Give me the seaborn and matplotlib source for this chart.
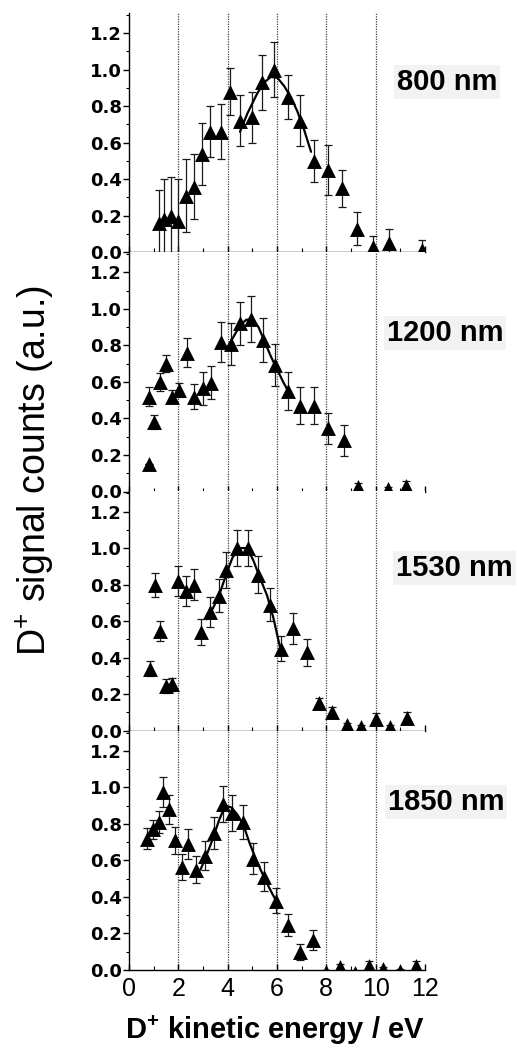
import matplotlib
matplotlib.use("Agg")
import matplotlib.pyplot as plt
import seaborn as sns
import numpy as np
from matplotlib.ticker import MultipleLocator

# ---------------- data ----------------
labels = ["800 nm", "1200 nm", "1530 nm", "1850 nm"]

x800 = [1.2, 1.4, 1.7, 2.0, 2.33, 2.63, 2.96, 3.27, 3.71, 4.09, 4.5, 4.97, 5.41, 5.88,
        6.43, 6.93, 7.49, 8.06, 8.63, 9.23, 9.89, 10.53, 11.86]
y800 = [0.16, 0.18, 0.20, 0.17, 0.31, 0.36, 0.54, 0.66, 0.66, 0.88, 0.72, 0.74, 0.93, 1.00,
        0.85, 0.72, 0.50, 0.45, 0.35, 0.13, 0.03, 0.05, 0.015]
e800 = [0.18, 0.22, 0.21, 0.23, 0.20, 0.18, 0.17, 0.14, 0.15, 0.13, 0.14, 0.14, 0.15, 0.15,
        0.12, 0.14, 0.115, 0.135, 0.10, 0.09, 0.06, 0.08, 0.05]
fx800 = [4.5, 4.8, 5.2, 5.48, 5.75, 6.02, 6.29, 6.56, 6.83, 7.1, 7.38]
fy800 = [0.66, 0.76, 0.87, 0.93, 0.96, 0.955, 0.91, 0.85, 0.77, 0.67, 0.55]

x1200 = [0.8, 0.8, 1.03, 1.24, 1.51, 1.74, 2.04, 2.34, 2.64, 2.99, 3.34, 3.71, 4.12, 4.51,
         4.96, 5.43, 5.92, 6.43, 6.93, 7.49, 8.07, 8.7, 9.28, 10.5, 11.21]
y1200 = [0.15, 0.52, 0.38, 0.60, 0.70, 0.52, 0.555, 0.76, 0.52, 0.565, 0.595, 0.82, 0.81,
         0.92, 0.945, 0.83, 0.69, 0.55, 0.47, 0.47, 0.345, 0.28, 0.025, 0.012, 0.03]
e1200 = [0.0, 0.05, 0.04, 0.05, 0.045, 0.035, 0.04, 0.08, 0.07, 0.09, 0.09, 0.11, 0.115,
         0.12, 0.125, 0.12, 0.115, 0.105, 0.10, 0.10, 0.085, 0.085, 0.02, 0.01, 0.03]
fx1200 = [4.0, 4.25, 4.5, 4.75, 5.0, 5.25, 5.5, 5.75, 6.0, 6.25, 6.45]
fy1200 = [0.79, 0.85, 0.91, 0.94, 0.945, 0.90, 0.82, 0.74, 0.67, 0.60, 0.55]

x1530 = [0.86, 1.05, 1.26, 1.51, 1.74, 2.0, 2.31, 2.62, 2.92, 3.27, 3.63, 3.95, 4.37, 4.82,
         5.24, 5.72, 6.15, 6.64, 7.2, 7.7, 8.22, 8.82, 9.39, 10.0, 10.6, 11.25]
y1530 = [0.34, 0.80, 0.545, 0.245, 0.255, 0.82, 0.765, 0.80, 0.54, 0.65, 0.74, 0.88, 1.0,
         1.0, 0.855, 0.69, 0.45, 0.56, 0.43, 0.15, 0.10, 0.03, 0.02, 0.065, 0.02, 0.07]
e1530 = [0.04, 0.065, 0.055, 0.04, 0.035, 0.08, 0.08, 0.085, 0.07, 0.08, 0.09, 0.10, 0.10,
         0.10, 0.10, 0.09, 0.07, 0.085, 0.075, 0.03, 0.03, 0.01, 0.01, 0.03, 0.01, 0.03]
fx1530 = [3.15, 3.4, 3.65, 3.95, 4.2, 4.5, 4.8, 5.05, 5.3, 5.6, 5.85, 6.15]
fy1530 = [0.61, 0.67, 0.74, 0.86, 0.95, 1.0, 1.0, 0.93, 0.84, 0.74, 0.62, 0.44]

x1850 = [0.74, 0.97, 1.2, 1.39, 1.61, 1.88, 2.16, 2.41, 2.73, 3.08, 3.46, 3.81, 4.19, 4.62,
         5.03, 5.46, 5.95, 6.46, 6.92, 7.46, 8.0, 8.57, 9.15, 9.73, 10.3, 10.97, 11.65]
y1850 = [0.72, 0.77, 0.81, 0.975, 0.88, 0.71, 0.565, 0.69, 0.55, 0.625, 0.75, 0.91, 0.86,
         0.81, 0.61, 0.51, 0.38, 0.245, 0.10, 0.165, -0.01, 0.015, -0.015, 0.022, 0.005,
         -0.005, 0.022]
e1850 = [0.055, 0.05, 0.06, 0.08, 0.08, 0.075, 0.07, 0.08, 0.075, 0.08, 0.09, 0.10, 0.10,
         0.095, 0.085, 0.08, 0.07, 0.06, 0.045, 0.055, 0.01, 0.02, 0.005, 0.03, 0.01, 0.01,
         0.03]
fx1850 = [2.9, 3.15, 3.4, 3.65, 3.9, 4.15, 4.4, 4.65, 4.9, 5.2, 5.5, 5.8, 6.0]
fy1850 = [0.55, 0.63, 0.72, 0.82, 0.90, 0.89, 0.85, 0.79, 0.69, 0.59, 0.50, 0.42, 0.37]

xticks = [0, 2, 4, 6, 8, 10, 12]
yticks = [0.0, 0.2, 0.4, 0.6, 0.8, 1.0, 1.2]
grid_x = [2, 4, 6, 8, 10]

panels = [
    (x800, y800, e800, fx800, fy800),
    (x1200, y1200, e1200, fx1200, fy1200),
    (x1530, y1530, e1530, fx1530, fy1530),
    (x1850, y1850, e1850, fx1850, fy1850),
]
label_pos = [(397, 82), (387, 333), (396, 568), (388, 802)]  # pixel positions

# ---------------- style ----------------
sns.set_theme(style="ticks")
plt.rcParams["font.family"] = ["Liberation Sans", "DejaVu Sans"]
plt.rcParams["mathtext.fontset"] = "custom"
plt.rcParams["mathtext.rm"] = "Liberation Sans"
plt.rcParams["mathtext.bf"] = "Liberation Sans:bold"
for k in ("text.color", "axes.labelcolor", "xtick.color", "ytick.color",
          "axes.edgecolor"):
    plt.rcParams[k] = "black"

W, H = 517, 1051
fig = plt.figure(figsize=(W / 100, H / 100), dpi=100)
top_px, bot_px = 13, 970
gs = fig.add_gridspec(4, 1, left=129 / W, right=425 / W,
                      top=1 - top_px / H, bottom=1 - bot_px / H, hspace=0)

for i, (xs, ys, es, fx, fy) in enumerate(panels):
    ax = fig.add_subplot(gs[i])
    for gx in grid_x:
        ax.axvline(gx, color="#444444", lw=0.9, ls=(0, (1, 1)), zorder=0)
    ax.errorbar(xs, ys, yerr=es, fmt="none", ecolor="#1a1a1a", elinewidth=0.9,
                capsize=3, capthick=0.9, zorder=2)
    sns.lineplot(x=fx, y=fy, color="black", lw=1.6, sort=False, ax=ax, zorder=3)
    sns.scatterplot(x=xs, y=ys, marker="^", s=115, color="black", edgecolor="black",
                    linewidth=0, ax=ax, zorder=4)
    ax.set_xlim(0, 12)
    ax.set_ylim(0, 1.31)
    for s in ("top", "right"):
        ax.spines[s].set_visible(False)
    for s in ("left", "bottom"):
        ax.spines[s].set_color("black")
        ax.spines[s].set_linewidth(1.0)
    ax.set_yticks(yticks, labels=[f"{v:.1f}" for v in yticks], fontsize=13,
                  fontweight="bold", fontfamily="DejaVu Sans", color="black")
    ax.yaxis.set_minor_locator(MultipleLocator(0.1))
    ax.xaxis.set_minor_locator(MultipleLocator(1))
    ax.tick_params(axis="y", which="major", direction="out", length=4, width=1,
                   pad=1, color="black")
    ax.tick_params(axis="y", which="minor", direction="out", length=2, width=0.8,
                   color="black")
    ax.tick_params(axis="x", which="major", direction="in", length=4, width=1,
                   color="black", pad=5)
    ax.tick_params(axis="x", which="minor", direction="in", length=3, width=0.8,
                   color="black")
    if i < 3:
        ax.set_xticks(xticks)
        ax.tick_params(axis="x", labelbottom=False)
    else:
        ax.set_xticks(xticks, labels=[str(v) for v in xticks], fontsize=18,
                      color="black")
    ax.set_xlabel("")
    ax.set_ylabel("")
    lx, ly = label_pos[i]
    fig.text(lx / W, 1 - ly / H, labels[i], fontsize=21, fontweight="bold",
             color="black", ha="left", va="center",
             bbox=dict(boxstyle="square,pad=0.1", fc="#f2f2f2", ec="none"))

fig.text(35 / W, 1 - 471 / H, r"D$^{\mathrm{+}}$ signal counts (a.u.)", rotation=90,
         fontsize=27, color="black", ha="center", va="center")
fig.text(275 / W, 1 - 1030 / H, r"D$^{\mathbf{+}}$ kinetic energy / eV", fontsize=21,
         fontweight="bold", color="black", ha="center", va="center")

fig.savefig("out.png", dpi=100)
